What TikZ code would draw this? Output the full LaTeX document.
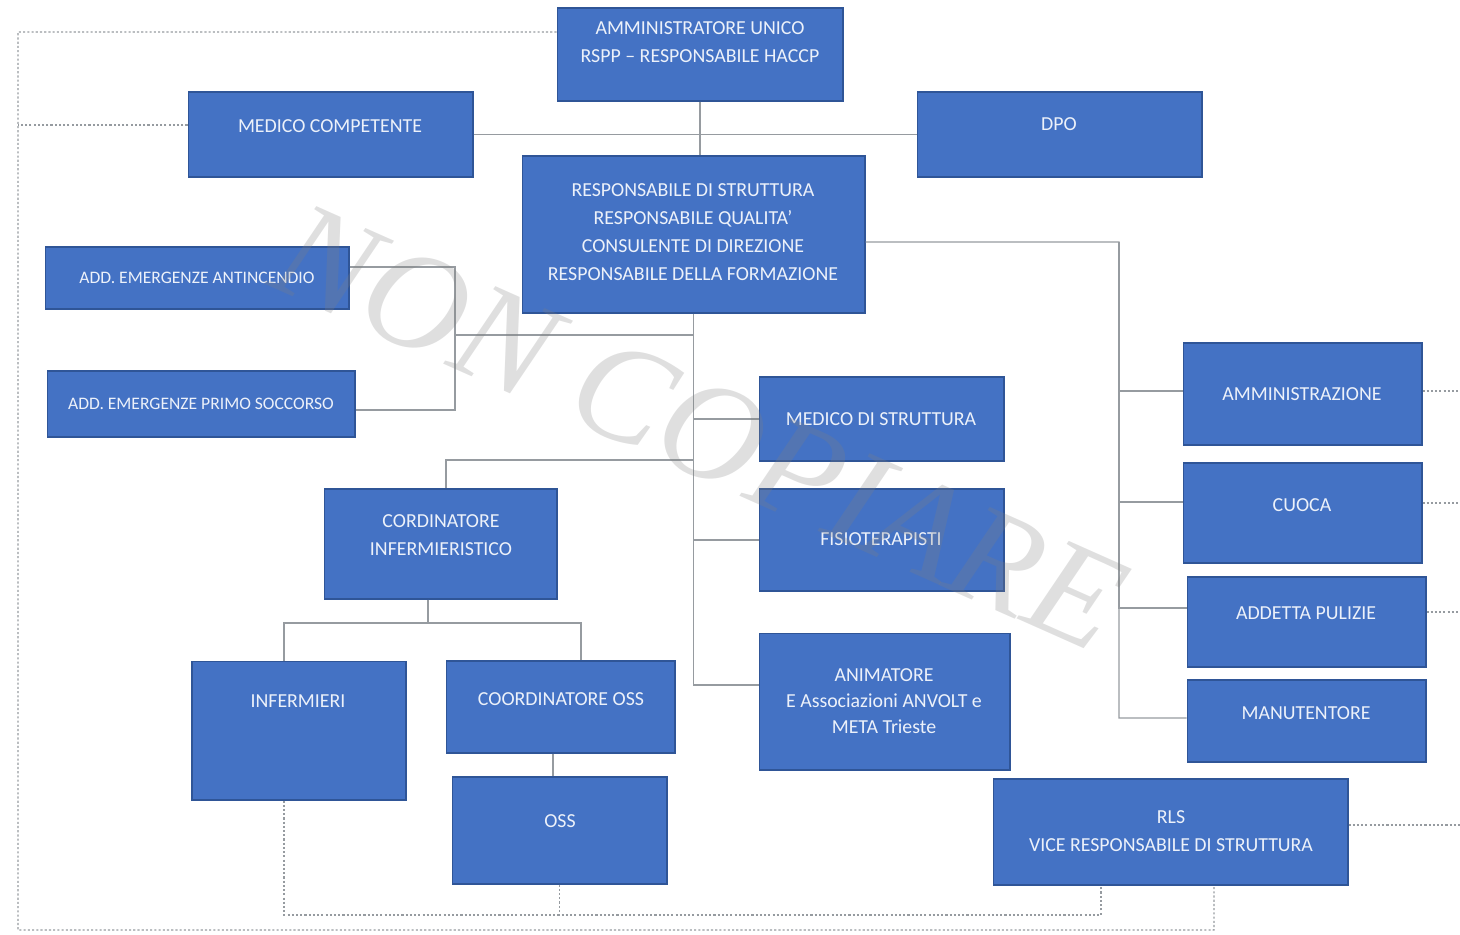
\documentclass[tikz,border=0pt]{standalone}
\usepackage{fontspec}
\setmainfont{Carlito}
\newfontfamily\wmfont{Liberation Serif}
\usetikzlibrary{calc}

\definecolor{boxblue}{RGB}{68,114,196}
\definecolor{boxline}{RGB}{47,85,151}
\definecolor{linegray}{RGB}{150,155,160}
\definecolor{textwhite}{RGB}{236,241,250}

\begin{document}
\begin{tikzpicture}[x=0.02cm, y=-0.02cm,
  box/.style={draw=boxline, fill=boxblue, line width=0.6pt, inner sep=0pt},
  lbl/.style={text=textwhite, align=center, inner sep=0pt,
    font=\fontsize{11.3}{16}\selectfont},
  smalllbl/.style={lbl, font=\fontsize{10}{11}\selectfont},
  conn/.style={draw=linegray, line width=0.6pt},
  dots/.style={draw=linegray, line width=0.6pt, dash pattern=on 1.2pt off 1.2pt},
  wmark/.style={text=gray, opacity=0.25, inner sep=0pt,
    font=\wmfont\itshape\fontsize{80}{80}\selectfont}]

\useasboundingbox (0,0) rectangle (1460,934);

% ============================
% Top: direction
% ============================
\node[box, minimum width=5.72cm, minimum height=1.86cm] (amm) at (700,54.5) {};
\node[lbl] (amm-t) at (700,42) {AMMINISTRATORE UNICO\\RSPP – RESPONSABILE HACCP};

\node[box, minimum width=5.70cm, minimum height=1.70cm] (medc) at (330.5,134.5) {};
\node[lbl] (medc-t) at (330,126) {MEDICO COMPETENTE};

\node[box, minimum width=5.70cm, minimum height=1.70cm] (dpo) at (1059.5,134.5) {};
\node[lbl] (dpo-t) at (1059,124) {DPO};

\node[box, minimum width=6.86cm, minimum height=3.14cm] (resp) at (693.5,234.5) {};
\node[lbl] (resp-t) at (693,232) {RESPONSABILE DI STRUTTURA\\RESPONSABILE QUALITA’\\
  CONSULENTE DI DIREZIONE\\RESPONSABILE DELLA FORMAZIONE};

% ============================
% Left: emergenze
% ============================
\node[box, minimum width=6.08cm, minimum height=1.24cm] (antinc) at (197,278) {};
\node[smalllbl] (antinc-t) at (197,278) {ADD. EMERGENZE ANTINCENDIO};

\node[box, minimum width=6.16cm, minimum height=1.32cm] (primo) at (201,404) {};
\node[smalllbl] (primo-t) at (201,404) {ADD. EMERGENZE PRIMO SOCCORSO};

% ============================
% Centre column
% ============================
\node[box, minimum width=4.90cm, minimum height=1.68cm] (medstr) at (881.5,419) {};
\node[lbl] (medstr-t) at (881,419) {MEDICO DI STRUTTURA};

\node[box, minimum width=4.90cm, minimum height=2.04cm] (fisio) at (881.5,540) {};
\node[lbl] (fisio-t) at (881,539) {FISIOTERAPISTI};

\node[box, minimum width=5.02cm, minimum height=2.74cm] (anim) at (884.5,701.5) {};
\node[lbl, font=\fontsize{11.3}{15}\selectfont] (anim-t) at (884,701)
  {ANIMATORE\\E Associazioni ANVOLT e\\META Trieste};

% ============================
% Nursing branch
% ============================
\node[box, minimum width=4.66cm, minimum height=2.20cm] (cordinf) at (440.5,544) {};
\node[lbl] (cordinf-t) at (441,535) {CORDINATORE\\INFERMIERISTICO};

\node[box, minimum width=4.28cm, minimum height=2.78cm] (inferm) at (299,730.5) {};
\node[lbl] (inferm-t) at (298,701) {INFERMIERI};

\node[box, minimum width=4.58cm, minimum height=1.84cm] (coss) at (560.5,707) {};
\node[lbl] (coss-t) at (561,699) {COORDINATORE OSS};

\node[box, minimum width=4.30cm, minimum height=2.14cm] (oss) at (559.5,830.5) {};
\node[lbl] (oss-t) at (560,821) {OSS};

% ============================
% Right column: services
% ============================
\node[box, minimum width=4.78cm, minimum height=2.04cm] (ammz) at (1302.5,394) {};
\node[lbl] (ammz-t) at (1302,394) {AMMINISTRAZIONE};

\node[box, minimum width=4.78cm, minimum height=2.00cm] (cuoca) at (1302.5,513) {};
\node[lbl] (cuoca-t) at (1302,505) {CUOCA};

\node[box, minimum width=4.78cm, minimum height=1.80cm] (puliz) at (1306.5,622) {};
\node[lbl] (puliz-t) at (1306,613) {ADDETTA PULIZIE};

\node[box, minimum width=4.78cm, minimum height=1.64cm] (manut) at (1306.5,721) {};
\node[lbl] (manut-t) at (1306,713) {MANUTENTORE};

\node[box, minimum width=7.10cm, minimum height=2.12cm] (rls) at (1170.5,832) {};
\node[lbl] (rls-t) at (1171,831) {RLS\\VICE RESPONSABILE DI STRUTTURA};

% ============================
% Solid connectors
% ============================
\coordinate (emb) at (455,335);
\coordinate (cjoin) at (446,460);
\coordinate (cbarL) at (284,623);
\coordinate (cbarR) at (581,623);
\coordinate (rx) at (1119,242);

\draw[conn] (amm.south) -- (amm.south |- resp.north);
\draw[conn] (medc.east) -- (dpo.west);

% trunk under resp
\draw[conn] (resp.south) |- ([yshift=0.33cm]anim.west);
\draw[conn] (resp.south |- medstr.west) -- (medstr.west);
\draw[conn] (resp.south |- fisio.west) -- (fisio.west);
\draw[conn] (resp.south |- emb) -- (emb);
\draw[conn] ([yshift=0.22cm]antinc.east) -| (emb) |- ([yshift=-0.12cm]primo.east);
\draw[conn] (resp.south |- cjoin) -- (cjoin) -- (cjoin |- cordinf.north);

% nursing
\draw[conn] ([xshift=-0.25cm]cordinf.south) -- ([xshift=-0.25cm]cordinf.south |- cbarL);
\draw[conn] (cbarL |- inferm.north) -- (cbarL) -- (cbarR) -- (cbarR |- coss.north);
\draw[conn] ([xshift=-0.15cm]coss.south) -- ([xshift=-0.15cm]coss.south |- oss.north);

% services
\draw[conn] ([yshift=-0.15cm]resp.east) -- (rx) |- ([yshift=0.06cm]manut.west);
\draw[conn] (rx) |- ([yshift=0.06cm]ammz.west);
\draw[conn] (rx) |- ([yshift=0.22cm]cuoca.west);
\draw[conn] (rx) |- ([yshift=0.28cm]puliz.west);

% ============================
% Dotted connectors
% ============================
\coordinate (olT) at (18,32);
\coordinate (olB) at (18,930);
\coordinate (orB) at (1214,930);
\coordinate (ilB) at (284,915);
\coordinate (irB) at (1101,915);
\coordinate (redge) at (1460,0);

\draw[dots] ([yshift=0.45cm]amm.west) -- (olT) -- (olB) -- (orB) -- (orB |- rls.south);
\draw[dots] ([yshift=0.19cm]medc.west) -- ([yshift=0.19cm]medc.west -| olT);
\draw[dots] (ilB |- inferm.south) -- (ilB) -- (irB) -- (irB |- rls.south);
\draw[dots] (oss.south) -- (oss.south |- ilB);

\foreach \bx/\dy in {ammz/0.06,cuoca/0.2,puliz/0.2,rls/0.14}{
  \draw[dots] ([yshift=\dy cm]\bx.east) -- ([yshift=\dy cm]\bx.east -| redge);
}

% ============================
% Watermark
% ============================
\node[wmark, rotate=-24] (wm) at (700,428) {NON COPIARE};

\end{tikzpicture}
\end{document}
